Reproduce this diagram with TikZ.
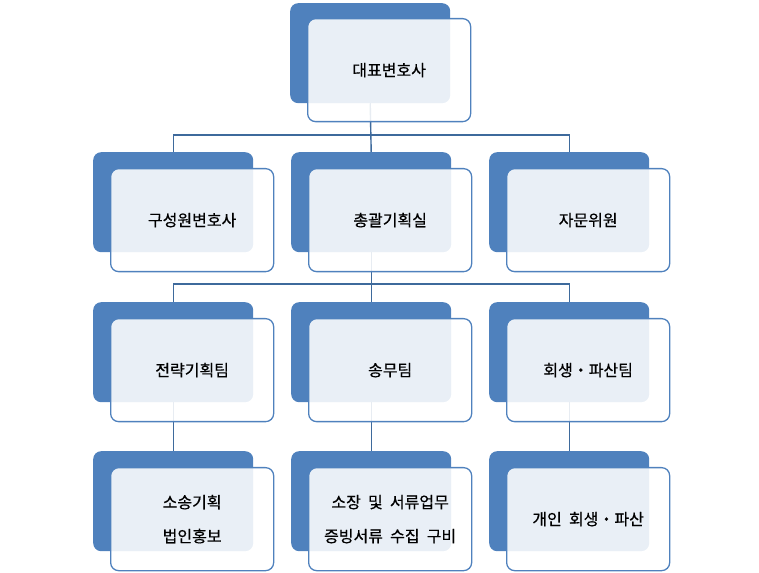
\documentclass[tikz,border=0pt]{standalone}
\usepackage{fontspec}
\newfontfamily\krfont[WordSpace=2.0,FakeBold=0.6]{Noto Sans CJK KR}
\definecolor{accent}{HTML}{4F81BD}
\definecolor{linkc}{HTML}{3E6A9C}
\begin{document}
\begin{tikzpicture}[x=1pt,y=1pt,
  backbox/.style={fill=accent, rounded corners=8pt, minimum width=160pt,
    minimum height=100pt, inner sep=0pt, anchor=north west},
  frontbox/.style={draw=accent, line width=1.3pt, fill=white, fill opacity=0.88,
    text opacity=1, rounded corners=8pt, minimum width=163pt, minimum height=103pt,
    inner sep=0pt, anchor=north west, align=center,
    font=\krfont\fontsize{16}{34}\selectfont},
  link/.style={draw=linkc, line width=1.4pt}]
\useasboundingbox (0,0) rectangle (759,572);

% back (blue) cards
\node[backbox] (top-b) at (290,569) {};
\node[backbox] (m1-b) at (93,420) {};
\node[backbox] (m2-b) at (291,420) {};
\node[backbox] (m3-b) at (489,420) {};
\node[backbox] (t1-b) at (93,270) {};
\node[backbox] (t2-b) at (291,270) {};
\node[backbox] (t3-b) at (489,270) {};
\node[backbox] (d1-b) at (93,121) {};
\node[backbox] (d2-b) at (291,121) {};
\node[backbox] (d3-b) at (489,121) {};

% connectors
\draw[link] (top-b.south) |- ([yshift=17pt]m1-b.north) -- (m1-b.north);
\draw[link] (top-b.south) |- ([yshift=17pt]m3-b.north) -- (m3-b.north);
\draw[link] (top-b.south) -- (m2-b.north);
\draw[link] (m2-b.south) |- ([yshift=18pt]t1-b.north) -- (t1-b.north);
\draw[link] (m2-b.south) |- ([yshift=18pt]t3-b.north) -- (t3-b.north);
\draw[link] (m2-b.south) -- (t2-b.north);
\draw[link] (t1-b.south) -- (d1-b.north);
\draw[link] (t2-b.south) -- (d2-b.north);
\draw[link] (t3-b.south) -- (d3-b.north);

% front (text) cards
\node[frontbox] (top) at (307,554) {대표변호사};
\node[frontbox] (m1) at (110,404) {구성원변호사};
\node[frontbox] (m2) at (308,404) {총괄기획실};
\node[frontbox] (m3) at (506,404) {자문위원};
\node[frontbox] (t1) at (110,254) {전략기획팀};
\node[frontbox] (t2) at (308,254) {송무팀};
\node[frontbox] (t3) at (506,254) {회생・파산팀};
\node[frontbox] (d1) at (110,105) {소송기획\\법인홍보};
\node[frontbox] (d2) at (308,105) {소장 및 서류업무\\증빙서류 수집 구비};
\node[frontbox] (d3) at (506,105) {개인 회생・파산};
\end{tikzpicture}
\end{document}
